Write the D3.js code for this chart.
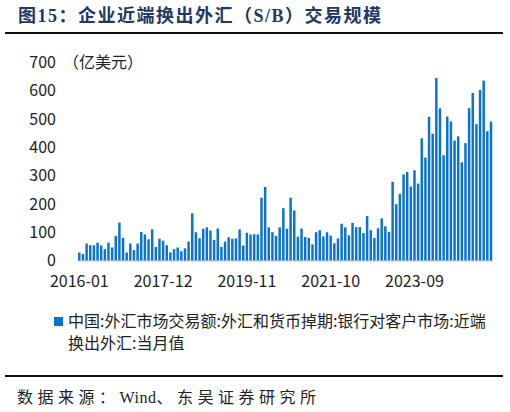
<!DOCTYPE html>
<html>
<head>
<meta charset="utf-8">
<script src="https://cdn.jsdelivr.net/npm/d3@7"></script>
<style>
  body { margin: 0; background: #fff; }
  svg { display: block; }
</style>
</head>
<body>
<svg id="chart" width="510" height="412"></svg>
<script>
const TITLE = '图15：企业近端换出外汇（S/B）交易规模';
const UNIT = '（亿美元）';
const SOURCE_PARTS = ['数据来源：', 'Wind', '、东吴证券研究所'];
const LEGEND_LINES = ['中国:外汇市场交易额:外汇和货币掉期:银行对客户市场:近端', '换出外汇:当月值'];

// monthly, 2016-01 .. 2025-06
const months = d3.timeMonths(new Date(2016, 0, 1), new Date(2025, 6, 1)).map(d3.timeFormat('%Y-%m'));

const values = [
  28, 23, 60, 54, 54, 63, 53, 40, 63, 46, 87, 134,
  80, 28, 60, 37, 60, 101, 92, 75, 110, 48, 77, 70,
  54, 29, 40, 46, 33, 43, 67, 167, 100, 79, 112, 117,
  106, 73, 113, 48, 67, 82, 77, 78, 110, 53, 98, 92,
  93, 92, 222, 260, 117, 100, 87, 117, 185, 112, 222, 177,
  84, 113, 83, 80, 57, 100, 107, 85, 100, 88, 61, 78,
  130, 117, 89, 133, 118, 118, 97, 157, 107, 80, 114, 149,
  121, 101, 278, 199, 236, 304, 313, 261, 319, 272, 432, 364,
  508, 448, 645, 538, 372, 509, 492, 424, 439, 347, 415, 539,
  592, 482, 603, 636, 457, 491
];

const xTickLabels = ['2016-01', '2017-12', '2019-11', '2021-10', '2023-09'];
const yTicks = [0, 100, 200, 300, 400, 500, 600, 700];

const BLUE = '#0b72cf';
const svg = d3.select('#chart');
const sans = '"Noto Sans CJK SC", "Noto Sans", sans-serif';
const serif = '"Liberation Serif", "Noto Sans CJK SC", serif';

// header
svg.append('text').attr('x', 18).attr('y', 22)
  .attr('font-family', serif)
  .attr('font-weight', 'bold').attr('font-size', 18).attr('letter-spacing', 1.5)
  .attr('fill', '#203864').text(TITLE);
svg.append('line').attr('x1', 5).attr('x2', 503).attr('y1', 33).attr('y2', 33)
  .attr('stroke', '#111').attr('stroke-width', 2);

const x = d3.scaleBand().domain(months).range([77.5, 492.8]);
const y = d3.scaleLinear().domain([0, 700]).range([260.5, 62.5]);

// baseline
svg.append('line').attr('x1', 77).attr('x2', 493)
  .attr('y1', y(0) + 0.5).attr('y2', y(0) + 0.5)
  .attr('stroke', '#d4d4d4').attr('stroke-width', 1.5);

const barW = x.bandwidth() * 0.68;
svg.append('g').selectAll('rect').data(values).enter().append('rect')
  .attr('x', (d, i) => x(months[i]) + (x.bandwidth() - barW) / 2)
  .attr('width', barW)
  .attr('y', d => y(d))
  .attr('height', d => y(0) - y(d))
  .attr('fill', BLUE);

// y axis labels
const yAxis = svg.append('g').attr('transform', 'translate(56,0)')
  .call(d3.axisLeft(y).tickValues(yTicks).tickSize(0).tickPadding(0));
yAxis.select('.domain').remove();
yAxis.selectAll('text').attr('font-family', sans).attr('font-size', 16).attr('fill', '#222');

svg.append('text').attr('x', 63).attr('y', 62.5).attr('dy', '0.35em')
  .attr('font-family', sans).attr('font-size', 16).attr('fill', '#222').text(UNIT);

// x axis labels
const xAxis = svg.append('g').attr('transform', `translate(0,${y(0)})`)
  .call(d3.axisBottom(x).tickValues(xTickLabels).tickSize(0).tickPadding(15));
xAxis.select('.domain').remove();
xAxis.selectAll('text').attr('font-family', sans).attr('font-size', 16).attr('fill', '#222');

// legend
svg.append('rect').attr('x', 54).attr('y', 317).attr('width', 9).attr('height', 9).attr('fill', BLUE);
svg.append('g').selectAll('text').data(LEGEND_LINES).enter().append('text')
  .attr('x', 68).attr('y', (d, i) => 321 + i * 22.6).attr('dy', '0.35em')
  .attr('font-family', sans).attr('font-size', 16).attr('fill', '#222')
  .text(d => d);

// footer
svg.append('line').attr('x1', 5).attr('x2', 503).attr('y1', 376).attr('y2', 376)
  .attr('stroke', '#111').attr('stroke-width', 2);
const src = svg.append('text').attr('x', 17).attr('y', 397).attr('dy', '0.35em')
  .attr('font-family', serif).attr('font-size', 16).attr('fill', '#222');
src.selectAll('tspan').data(SOURCE_PARTS).enter().append('tspan')
  .attr('letter-spacing', (d, i) => i === 1 ? 0.5 : 4.5)
  .text(d => d);
</script>
</body>
</html>
